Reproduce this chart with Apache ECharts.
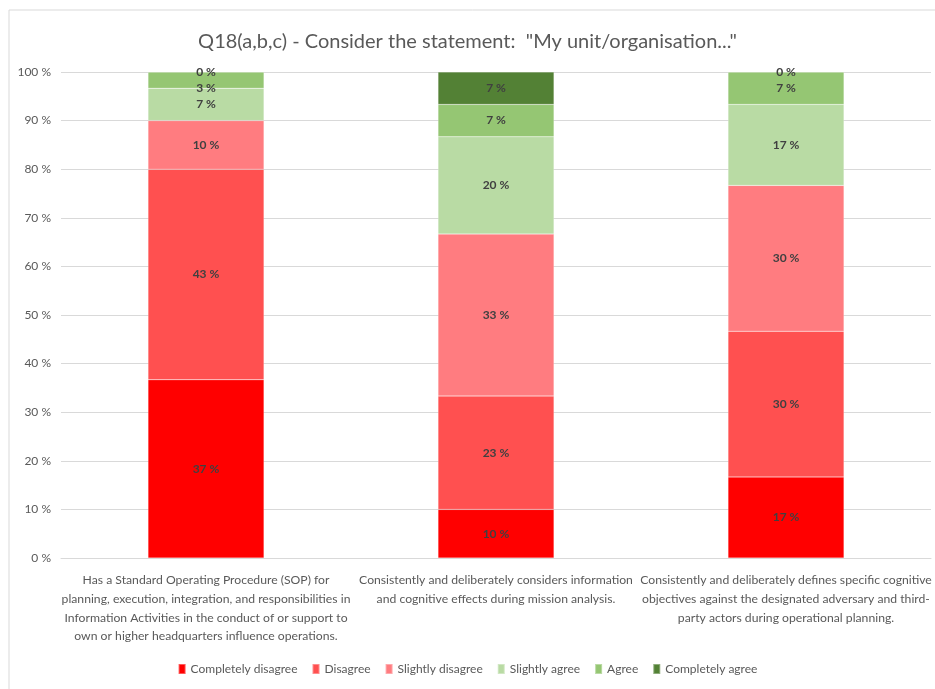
<!DOCTYPE html>
<html>
<head>
<meta charset="utf-8">
<script src="https://cdn.jsdelivr.net/npm/echarts@6/dist/echarts.min.js"></script>
<style>
  html, body { margin: 0; padding: 0; background: #fff; }
  #chart { width: 935px; height: 689px; }
</style>
</head>
<body>
<div id="chart"></div>
<script>
// categories (statements)
const categories = [
    "Has a Standard Operating Procedure (SOP) for\nplanning, execution, integration, and responsibilities in\nInformation Activities in the conduct of or support to\nown or higher headquarters influence operations.",
    "Consistently and deliberately considers information\nand cognitive effects during mission analysis.",
    "Consistently and deliberately defines specific cognitive\nobjectives against the designated adversary and third-\nparty actors during operational planning.",
];

// answer shares in percent, one array per answer
const completelyDisagree = [36.67, 10, 16.67];
const disagree = [43.33, 23.33, 30];
const slightlyDisagree = [10, 33.33, 30];
const slightlyAgree = [6.67, 20, 16.66];
const agree = [3.33, 6.67, 6.67];
const completelyAgree = [0, 6.67, 0];

const seriesNames = ["Completely disagree", "Disagree", "Slightly disagree", "Slightly agree", "Agree", "Completely agree"];
const seriesData = [completelyDisagree, disagree, slightlyDisagree, slightlyAgree, agree, completelyAgree];
const colorList = ["#ff0000", "#ff5050", "#ff7c80", "#b9dba4", "#95c673", "#538135"];

const font = 'Lato, "Liberation Sans Narrow", sans-serif';
const textGrey = "#595959";

const series = seriesNames.map((name, i) => ({
    name: name,
    type: "bar",
    stack: "total",
    barWidth: "40%",
    data: seriesData[i],
    itemStyle: { color: colorList[i], borderColor: "rgba(255,255,255,0.35)", borderWidth: 0.5 },
    label: {
        show: true,
        position: "inside",
        color: "#404040",
        fontFamily: font,
        fontSize: 12,
        fontWeight: "bold",
        formatter: (p) => Math.round(p.value) + " %",
    },
}));

const option = {
    color: colorList,
    animation: false,
    title: {
        text: 'Q18(a,b,c) - Consider the statement:  "My unit/organisation..."',
        left: "center",
        top: 27,
        textStyle: { fontFamily: font, fontSize: 20, fontWeight: "normal", color: textGrey },
    },
    graphic: [{
        type: "rect",
        shape: { x: 9, y: 10, width: 940, height: 700 },
        style: { fill: "none", stroke: "#d9d9d9", lineWidth: 1 },
    }],
    legend: {
        bottom: 9,
        left: "center",
        icon: "rect",
        itemWidth: 7,
        itemHeight: 10,
        itemGap: 14,
        textStyle: { fontFamily: font, fontSize: 12, color: textGrey },
        data: seriesNames,
    },
    grid: { left: 61, right: 4, top: 72, bottom: 131 },
    xAxis: {
        type: "category",
        data: categories,
        axisTick: { show: false },
        axisLine: { lineStyle: { color: "#d9d9d9" } },
        axisLabel: {
            interval: 0,
            margin: 13,
            lineHeight: 18.7,
            fontFamily: font,
            fontSize: 12.2,
            color: textGrey,
        },
    },
    yAxis: {
        type: "value",
        min: 0,
        max: 100,
        interval: 10,
        axisLine: { show: false },
        axisTick: { show: false },
        splitLine: { lineStyle: { color: "#d9d9d9" } },
        axisLabel: {
            formatter: "{value} %",
            margin: 10,
            fontFamily: font,
            fontSize: 12,
            color: textGrey,
        },
    },
    series: series,
};

// nudge the small "Agree" label in the first bar down, as in the original
option.series[4].data = agree.map((v, i) => i === 0 ? { value: v, label: { offset: [0, 8] } } : v);

const myChart = echarts.init(document.getElementById("chart"));
myChart.setOption(option);
</script>
</body>
</html>
